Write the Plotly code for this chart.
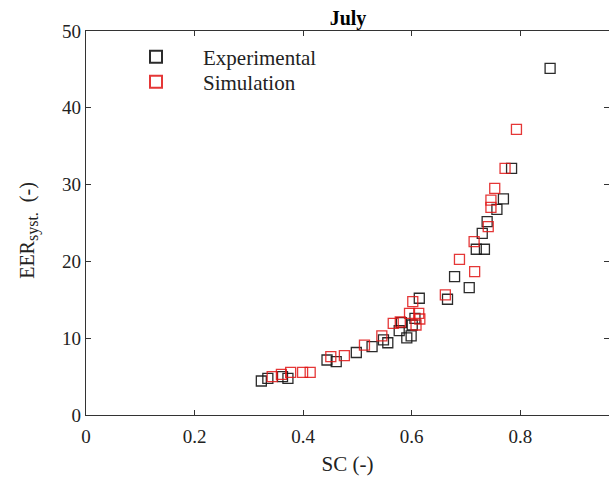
import plotly.graph_objects as go

# Experimental (black)
exp_sc = [0.323, 0.335, 0.362, 0.372, 0.444, 0.461, 0.498, 0.527, 0.548, 0.556,
          0.577, 0.581, 0.591, 0.601, 0.599, 0.606, 0.614, 0.666, 0.679, 0.706,
          0.719, 0.734, 0.730, 0.739, 0.757, 0.769, 0.784, 0.855]
exp_eer = [4.43, 4.78, 4.99, 4.78, 7.16, 6.94, 8.14, 8.89, 9.77, 9.41,
           10.98, 12.02, 10.03, 11.72, 10.29, 12.59, 15.20, 15.07, 18.01, 16.58,
           21.58, 21.58, 23.66, 25.17, 26.78, 28.13, 32.12, 45.14]

# Simulation (red)
sim_sc = [0.343, 0.360, 0.377, 0.399, 0.413, 0.451, 0.476, 0.513, 0.545, 0.566,
          0.579, 0.596, 0.602, 0.613, 0.615, 0.608, 0.662, 0.688, 0.716, 0.715,
          0.741, 0.746, 0.753, 0.746, 0.772, 0.793]
sim_eer = [4.99, 5.30, 5.56, 5.56, 5.56, 7.59, 7.72, 9.11, 10.29, 11.94,
           12.11, 13.24, 14.75, 13.22, 12.50, 11.72, 15.63, 20.27, 18.66, 22.57,
           24.52, 27.04, 29.52, 27.99, 32.12, 37.20]

x_ticks = [0, 0.2, 0.4, 0.6, 0.8]
x_tick_labels = ["0", "0.2", "0.4", "0.6", "0.8"]
y_ticks = [0, 10, 20, 30, 40, 50]

FONT = "Liberation Serif"
BLACK = "rgba(20,20,20,0.9)"
RED = "rgba(225,20,20,0.85)"

fig = go.Figure()
fig.add_trace(go.Scatter(
    x=exp_sc, y=exp_eer, mode="markers", name="Experimental", legend="legend",
    marker=dict(symbol="square-open", size=10, color=BLACK,
                line=dict(width=1.3, color=BLACK)),
))
fig.add_trace(go.Scatter(
    x=sim_sc, y=sim_eer, mode="markers", name="Simulation", legend="legend2",
    marker=dict(symbol="square-open", size=10, color=RED,
                line=dict(width=1.3, color=RED)),
))

leg_common = dict(xanchor="left", yanchor="middle", bgcolor="rgba(0,0,0,0)",
                  font=dict(family=FONT, size=21, color="#222"),
                  itemsizing="constant", itemwidth=84, borderwidth=0)

fig.update_layout(
    width=609, height=477,
    margin=dict(l=86, r=0, t=31, b=62),
    paper_bgcolor="white", plot_bgcolor="white",
    font=dict(family=FONT, size=19, color="#222"),
    title=dict(text="<b>July</b>", x=348/609, xanchor="center",
               y=1 - 18/477, yanchor="middle",
               font=dict(family=FONT, size=20, color="black")),
    showlegend=True,
    legend=dict(x=(109-86)/523, y=(415-57)/384, **leg_common),
    legend2=dict(x=(109-86)/523, y=(415-82)/384, **leg_common),
)
fig.update_xaxes(
    range=[0, 0.9635], tickvals=x_ticks, ticktext=x_tick_labels,
    showgrid=False, zeroline=False,
    showline=True, linecolor="#333", linewidth=1.2, mirror="ticks",
    ticks="inside", ticklen=5, tickcolor="#333", tickwidth=1.2,
    ticklabelstandoff=4,
    title=dict(text="SC (-)", standoff=10, font=dict(family=FONT, size=21)),
    tickfont=dict(family=FONT, size=19),
)
fig.update_yaxes(
    range=[0, 50], tickvals=y_ticks,
    showgrid=False, zeroline=False,
    showline=True, linecolor="#333", linewidth=1.2, mirror="ticks",
    ticks="inside", ticklen=5, tickcolor="#333", tickwidth=1.2,
    title=dict(text="EER<sub><span style='font-size:16px'>syst.</span></sub>&nbsp;&nbsp;(-)&nbsp;&nbsp;&nbsp;",
               standoff=22, font=dict(family=FONT, size=20)),
    tickfont=dict(family=FONT, size=19),
)

fig.write_html("out.html")
